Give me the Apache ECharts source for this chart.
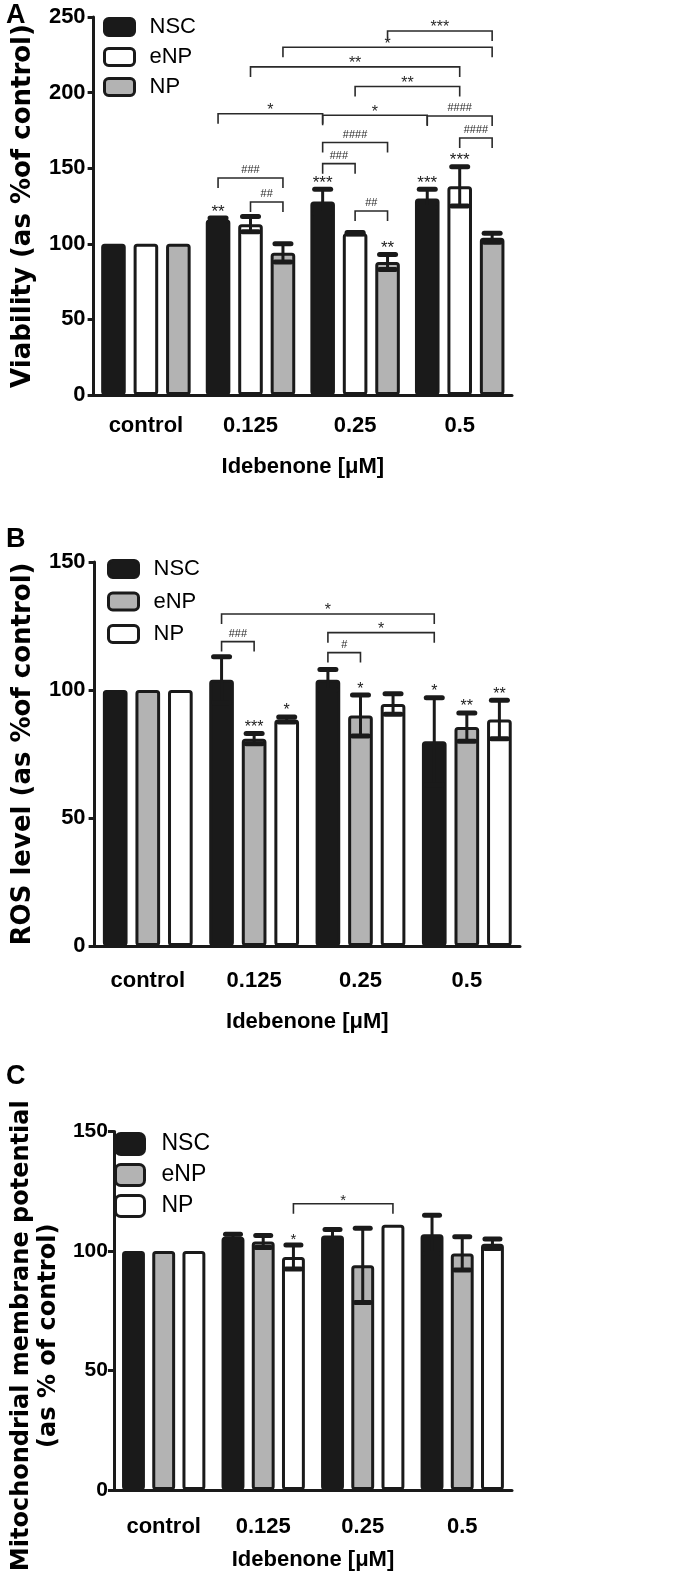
<!DOCTYPE html>
<html><head><meta charset="utf-8">
<script src="https://cdn.jsdelivr.net/npm/echarts@6/dist/echarts.min.js"></script>
<style>
html,body{margin:0;padding:0;background:#fff;width:699px;height:1576px;overflow:hidden}
.p{position:absolute;left:0;width:699px}
</style></head>
<body>
<div id="pa" class="p" style="top:0;height:520px"></div>
<div id="pb" class="p" style="top:520px;height:520px"></div>
<div id="pc" class="p" style="top:1040px;height:536px"></div>
<script>
// ---------- DATA ----------
const categories = ['control', '0.125', '0.25', '0.5'];
const xTitle = 'Idebenone [μM]';

// Panel A: Viability
const namesA = ['NSC', 'eNP', 'NP'];
const nscA = [100, 116, 128, 130];
const nscErrA = [0, 1, 8, 6];
const enpA = [100, 113, 107, 138];
const enpErrA = [0, 5, 0.5, 13];
const npA = [100, 94, 88, 104];
const npErrA = [0, 6, 5, 3];
const nscStarsA = ['', '**', '***', '***'];
const enpStarsA = ['', '', '', '***'];
const npStarsA = ['', '', '**', ''];
const yTicksA = [0, 50, 100, 150, 200, 250];
const yTitleA = 'Viability (as %of control)';
// [fromGroup, fromBar, toGroup, toBar, height, label]
const bracketsA = [
  [2, 2, 3, 2, 240.7, '***'],
  [1, 2, 3, 2, 230, '*'],
  [1, 1, 3, 1, 217, '**'],
  [2, 1, 3, 1, 204, '**'],
  [1, 0, 2, 0, 186, '*'],
  [2, 0, 3, 0, 185, '*'],
  [3, 0, 3, 2, 184.5, '####'],
  [2, 0, 2, 2, 167, '####'],
  [3, 1, 3, 2, 170, '####'],
  [2, 0, 2, 1, 153, '###'],
  [1, 0, 1, 2, 143.5, '###'],
  [1, 1, 1, 2, 127.6, '##'],
  [2, 1, 2, 2, 121.7, '##']
];

// Panel B: ROS level
const namesB = ['NSC', 'eNP', 'NP'];
const nscB = [100, 104, 104, 80];
const nscErrB = [0, 9, 4, 17];
const enpB = [100, 81, 90, 85.5];
const enpErrB = [0, 2, 8, 5.5];
const npB = [100, 88.5, 94.5, 88.5];
const npErrB = [0, 1, 4, 7.5];
const nscStarsB = ['', '', '', '*'];
const enpStarsB = ['', '***', '*', '**'];
const npStarsB = ['', '*', '', '**'];
const yTicksB = [0, 50, 100, 150];
const yTitleB = 'ROS level (as %of control)';
const bracketsB = [
  [1, 0, 3, 0, 129.7, '*'],
  [2, 0, 3, 0, 122.4, '*'],
  [1, 0, 1, 1, 118.9, '###'],
  [2, 0, 2, 1, 114.6, '#']
];

// Panel C: Mitochondrial membrane potential
const namesC = ['NSC', 'eNP', 'NP'];
const nscC = [100, 106, 106.5, 107];
const nscErrC = [0, 1, 2.5, 8];
const enpC = [100, 104, 94, 99];
const enpErrC = [0, 2.5, 15.5, 7];
const npC = [100, 97.5, 111, 103];
const npErrC = [0, 5, 0, 2];
const nscStarsC = ['', '', '', ''];
const enpStarsC = ['', '', '', ''];
const npStarsC = ['', '*', '', ''];
const yTicksC = [0, 50, 100, 150];
const yTitleC = 'Mitochondrial membrane potential\n(as % of control)';
const bracketsC = [
  [1, 2, 2, 2, 119.8, '*']
];

// ---------- STYLE ----------
const INK = '#1a1a1a';
const GRAY = '#b3b3b3';
const WHITE = '#ffffff';
const NARROW = '"Liberation Sans Narrow", "Arial Narrow", "Liberation Sans", sans-serif';
const WIDE = '"DejaVu Sans", "Liberation Sans", sans-serif';
const PLAIN = '"Liberation Sans", Arial, sans-serif';

function build(id, P) {
  const chart = echarts.init(document.getElementById(id), null, {renderer: 'canvas'});
  const series = [];
  P.names.forEach((n, s) => {
    series.push({
      type: 'bar', name: n, data: P.values[s],
      barWidth: (P.barW * 100) + '%', barGap: (P.barGap * 100) + '%',
      itemStyle: {color: P.colors[s], borderColor: INK, borderWidth: 3, borderRadius: 2},
      silent: true, z: 2, animation: false
    });
  });
  P.names.forEach((n, s) => {
    series.push({
      type: 'custom', silent: true, z: 4, animation: false,
      data: categories.map((c, i) => [i, P.values[s][i], P.errs[s][i]]),
      encode: {x: 0, y: 1},
      renderItem: (params, api) => {
        const i = api.value(0), v = api.value(1), e = api.value(2);
        const band = api.size([1, 0])[0];
        const w = band * P.barW;
        const off = (s - 1) * w * (1 + P.barGap);
        const x = api.coord([i, v])[0] + off;
        const top = api.coord([i, v + e])[1];
        const bot = api.coord([i, v - e])[1];
        const barTop = api.coord([i, v])[1];
        const ch = [];
        if (e > 0) {
          const cw = P.capW / 2;
          ch.push({type: 'line', shape: {x1: x, y1: top, x2: x, y2: bot}, style: {stroke: INK, lineWidth: 3}});
          ch.push({type: 'line', shape: {x1: x - cw, y1: top, x2: x + cw, y2: top}, style: {stroke: INK, lineWidth: 5, lineCap: 'round'}});
          ch.push({type: 'line', shape: {x1: x - cw, y1: bot, x2: x + cw, y2: bot}, style: {stroke: INK, lineWidth: 5, lineCap: 'round'}});
        }
        const star = P.stars[s][params.dataIndex];
        if (star) {
          ch.push({type: 'text', x: x, y: Math.min(top, barTop) - P.starLift,
            style: {text: star, fill: INK, fontSize: P.starSize, fontFamily: PLAIN, align: 'center', verticalAlign: 'middle'}});
        }
        return {type: 'group', children: ch};
      }
    });
  });
  series.push({
    type: 'custom', silent: true, z: 5, animation: false,
    data: P.brackets.map(b => [b[0], b[4]]),
    encode: {x: 0, y: 1},
    renderItem: (params, api) => {
      const b = P.brackets[params.dataIndex];
      const band = api.size([1, 0])[0];
      const step = band * P.barW * (1 + P.barGap);
      const x1 = api.coord([b[0], b[4]])[0] + (b[1] - 1) * step;
      const x2 = api.coord([b[2], b[4]])[0] + (b[3] - 1) * step;
      const y = api.coord([b[0], b[4]])[1];
      const leg = P.leg;
      const isHash = b[5].indexOf('#') >= 0;
      return {type: 'group', children: [
        {type: 'polyline', shape: {points: [[x1, y + leg], [x1, y], [x2, y], [x2, y + leg]]},
          style: {stroke: '#2a2a2a', lineWidth: 1.6, fill: null}},
        {type: 'text', x: (x1 + x2) / 2, y: isHash ? y - 8 : y - 3,
          style: {text: b[5], fill: '#2a2a2a', fontSize: isHash ? P.hashSize : P.bStarSize,
            fontFamily: PLAIN, align: 'center', verticalAlign: 'middle'}}
      ]};
    }
  });

  chart.setOption({
    animation: false,
    backgroundColor: '#fff',
    textStyle: {fontFamily: NARROW},
    graphic: [{type: 'text', left: P.letterPos[0], top: P.letterPos[1],
      style: {text: P.letter, fontSize: 27, fontWeight: 'bold', fontFamily: PLAIN, fill: '#000'}}],
    legend: {
      data: P.names, orient: 'vertical', left: P.legend.left, top: P.legend.top, padding: 0,
      itemWidth: P.legend.w, itemHeight: P.legend.h, itemGap: P.legend.gap, icon: 'roundRect',
      itemStyle: {borderColor: INK, borderWidth: 3},
      textStyle: {fontSize: P.legend.fs, fontFamily: NARROW, color: '#000', padding: [0, 0, 0, P.legend.pad]},
      selectedMode: false
    },
    grid: P.grid,
    xAxis: {
      type: 'category', data: categories,
      name: xTitle, nameLocation: 'middle', nameGap: P.xNameGap,
      nameTextStyle: {fontSize: 22, fontWeight: 'bold', fontFamily: NARROW, color: '#000', verticalAlign: 'top'},
      axisLine: {lineStyle: {color: INK, width: 3}},
      axisTick: {alignWithLabel: true, length: 8, lineStyle: {color: INK, width: 3}},
      axisLabel: {interval: 0, fontSize: 22, fontWeight: 'bold', fontFamily: NARROW, color: '#000', margin: P.xLabelMargin}
    },
    yAxis: {
      type: 'value', min: P.yTicks[0], max: P.yTicks[P.yTicks.length - 1],
      interval: P.yTicks[1] - P.yTicks[0],
      name: P.yTitle, nameLocation: 'middle', nameRotate: 90, nameGap: P.yNameGap,
      nameTextStyle: {fontSize: P.yTitleSize, fontWeight: 'bold', fontFamily: WIDE, color: '#000',
        lineHeight: P.yTitleLH, padding: P.yTitlePad},
      axisLine: {show: true, lineStyle: {color: INK, width: 3}},
      axisTick: {show: true, length: 6, lineStyle: {color: INK, width: 3}},
      splitLine: {show: false},
      axisLabel: {fontSize: P.yLabelSize, fontWeight: 'bold', fontFamily: NARROW, color: '#000', margin: P.yLabelMargin}
    },
    series: series
  });
}

build('pa', {
  names: namesA, colors: [INK, WHITE, GRAY],
  values: [nscA, enpA, npA], errs: [nscErrA, enpErrA, npErrA],
  stars: [nscStarsA, enpStarsA, npStarsA], brackets: bracketsA,
  yTicks: yTicksA, yTitle: yTitleA,
  grid: {left: 86, top: 17, width: 426, height: 378},
  barW: 0.235, barGap: 0.32, capW: 16, starLift: 6, starSize: 17, bStarSize: 16, hashSize: 11, leg: 10,
  legend: {left: 103, top: 16, w: 30, h: 17, gap: 8, fs: 22, pad: 10},
  letter: 'A', letterPos: [6, 2],
  xNameGap: 61, xLabelMargin: 20, yNameGap: 54, yTitleSize: 26, yTitleLH: 30, yTitlePad: 0,
  yLabelSize: 22, yLabelMargin: 8
});

build('pb', {
  names: namesB, colors: [INK, GRAY, WHITE],
  values: [nscB, enpB, npB], errs: [nscErrB, enpErrB, npErrB],
  stars: [nscStarsB, enpStarsB, npStarsB], brackets: bracketsB,
  yTicks: yTicksB, yTitle: yTitleB,
  grid: {left: 87, top: 42, width: 433, height: 384},
  barW: 0.232, barGap: 0.32, capW: 16, starLift: 6, starSize: 16, bStarSize: 16, hashSize: 11, leg: 10,
  legend: {left: 107, top: 38, w: 30, h: 17, gap: 10.5, fs: 22, pad: 10},
  letter: 'B', letterPos: [6, 6],
  xNameGap: 65, xLabelMargin: 24, yNameGap: 53, yTitleSize: 26, yTitleLH: 30, yTitlePad: 0,
  yLabelSize: 22, yLabelMargin: 9
});

build('pc', {
  names: namesC, colors: [INK, GRAY, WHITE],
  values: [nscC, enpC, npC], errs: [nscErrC, enpErrC, npErrC],
  stars: [nscStarsC, enpStarsC, npStarsC], brackets: bracketsC,
  yTicks: yTicksC, yTitle: yTitleC,
  grid: {left: 103, top: 91.5, width: 409, height: 361.5},
  barW: 0.23, barGap: 0.32, capW: 15, starLift: 5, starSize: 15, bStarSize: 15, hashSize: 11, leg: 10,
  legend: {left: 114, top: 92, w: 29, h: 21, gap: 7, fs: 23, pad: 12},
  letter: 'C', letterPos: [6, 23],
  xNameGap: 59, xLabelMargin: 26, yNameGap: 44, yTitleSize: 24, yTitleLH: 27, yTitlePad: [0, 50, 0, 0],
  yLabelSize: 21, yLabelMargin: 6
});
</script>
</body></html>
